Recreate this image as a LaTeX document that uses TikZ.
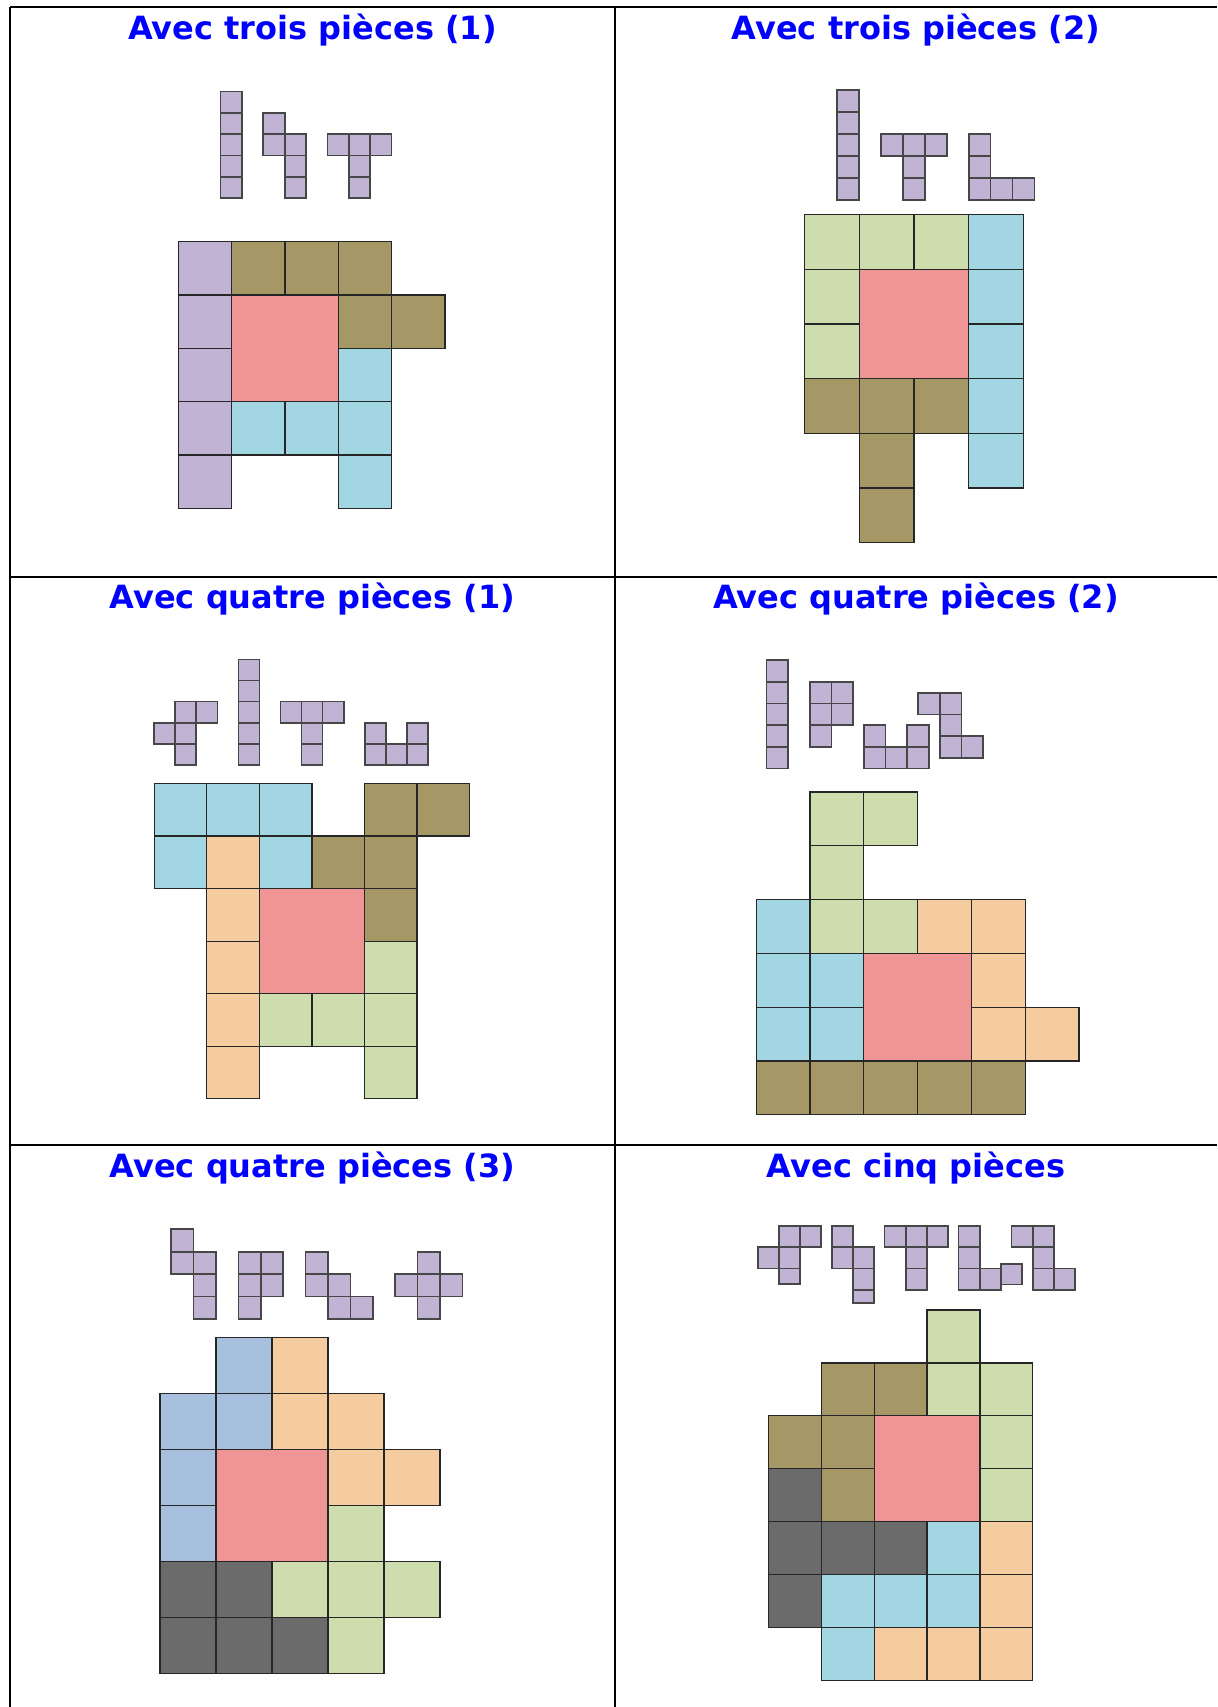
\documentclass[tikz,border=0pt]{standalone}
\usepackage{fontspec}
\setmainfont{DejaVu Sans}
\definecolor{pur}{HTML}{C1B3D3}
\definecolor{oli}{HTML}{A59766}
\definecolor{cya}{HTML}{A3D6E3}
\definecolor{grn}{HTML}{CDDDAD}
\definecolor{ora}{HTML}{F5CBA0}
\definecolor{stl}{HTML}{A6C0DE}
\definecolor{gry}{HTML}{6B6B6B}
\definecolor{rsq}{HTML}{F09595}
\definecolor{ttl}{HTML}{0000FF}
\newcommand{\cells}[2]{\foreach \a/\b in {#2} {\filldraw[#1] (\a,\b) rectangle ++(1,1);}}
\newcommand{\cellh}[4]{\filldraw[#1] (#2,#3) rectangle ++(1,#4);}
\tikzset{
  frame/.style={draw=black, line width=1pt},
  main/.style={draw=black!85, line width=0.65pt},
  piece/.style={fill=pur, draw=black!72, line width=0.85pt},
  redblock/.style={main, fill=rsq},
  ttlstyle/.style={font=\bfseries\fontsize{16pt}{19pt}\selectfont, text=ttl, inner sep=0pt, anchor=base}
}
\begin{document}
\begin{tikzpicture}[x=0.5pt, y=-0.5pt]
\useasboundingbox (0,0) rectangle (1217,1707);
% table frame
\draw[frame] (10,7.5) -- (1217,7.5);
\draw[frame] (10,577) -- (1217,577);
\draw[frame] (10,1145) -- (1217,1145);
\draw[frame] (10,7.5) -- (10,1707);
\draw[frame] (615,7.5) -- (615,1707);
% titles
\node[ttlstyle] (t1) at (312.5,39.3) {Avec trois pièces (1)};
\node[ttlstyle] (t2) at (916,39.3) {Avec trois pièces (2)};
\node[ttlstyle] (t3) at (312.5,608) {Avec quatre pièces (1)};
\node[ttlstyle] (t4) at (916,608) {Avec quatre pièces (2)};
\node[ttlstyle] (t5) at (312.5,1177.3) {Avec quatre pièces (3)};
\node[ttlstyle] (t6) at (916,1177.3) {Avec cinq pièces};

% ===== Panel 1 =====
\begin{scope}[shift={(220.6,91.4)}, x=10.675pt, y=-10.675pt]
  \cells{piece}{0/0,0/1,0/2,0/3,0/4}
  \cells{piece}{2/1,2/2,3/2,3/3,3/4}
  \cells{piece}{5/2,6/2,7/2,6/3,6/4}
\end{scope}
\begin{scope}[shift={(178.3,241.6)}, x=26.675pt, y=-26.675pt]
  \cells{main,fill=pur}{0/0,0/1,0/2,0/3,0/4}
  \cells{main,fill=oli}{1/0,2/0,3/0,3/1,4/1}
  \cells{main,fill=cya}{3/2,1/3,2/3,3/3,3/4}
  \filldraw[redblock] (1,1) rectangle ++(2,2);
\end{scope}

% ===== Panel 2 =====
\begin{scope}[shift={(837.3,90.3)}, x=10.95pt, y=-10.95pt]
  \cells{piece}{0/0,0/1,0/2,0/3,0/4}
  \cells{piece}{2/2,3/2,4/2,3/3,3/4}
  \cells{piece}{6/2,6/3,6/4,7/4,8/4}
\end{scope}
\begin{scope}[shift={(804.6,214.6)}, x=27.35pt, y=-27.35pt]
  \cells{main,fill=grn}{0/0,1/0,2/0,0/1,0/2}
  \cells{main,fill=cya}{3/0,3/1,3/2,3/3,3/4}
  \cells{main,fill=oli}{0/3,1/3,2/3,1/4,1/5}
  \filldraw[redblock] (1,1) rectangle ++(2,2);
\end{scope}

% ===== Panel 3 =====
\begin{scope}[shift={(154.2,659.5)}, x=10.525pt, y=-10.525pt]
  \cells{piece}{1/2,2/2,0/3,1/3,1/4}
  \cells{piece}{4/0,4/1,4/2,4/3,4/4}
  \cells{piece}{6/2,7/2,8/2,7/3,7/4}
  \cells{piece}{10/3,12/3,10/4,11/4,12/4}
\end{scope}
\begin{scope}[shift={(154.2,783.5)}, x=26.275pt, y=-26.275pt]
  \cells{main,fill=cya}{0/0,1/0,2/0,0/1,2/1}
  \cells{main,fill=oli}{4/0,5/0,3/1,4/1,4/2}
  \cells{main,fill=ora}{1/1,1/2,1/3,1/4,1/5}
  \cells{main,fill=grn}{4/3,2/4,3/4,4/4,4/5}
  \filldraw[redblock] (2,2) rectangle ++(2,2);
\end{scope}

% ===== Panel 4 =====
\begin{scope}[shift={(766.5,660.3)}, x=10.825pt, y=-10.825pt]
  \cells{piece}{0/0,0/1,0/2,0/3,0/4}
  \cells{piece}{2/1,3/1,2/2,3/2,2/3}
  \cells{piece}{4.5/3,6.5/3,4.5/4,5.5/4,6.5/4}
  \cells{piece}{7/1.5,8/1.5,8/2.5,8/3.5,9/3.5}
\end{scope}
\begin{scope}[shift={(756.2,792.0)}, x=26.9pt, y=-26.9pt]
  \cells{main,fill=grn}{1/0,2/0,1/1,1/2,2/2}
  \cells{main,fill=ora}{3/2,4/2,4/3,4/4,5/4}
  \cells{main,fill=cya}{0/2,0/3,1/3,0/4,1/4}
  \cells{main,fill=oli}{0/5,1/5,2/5,3/5,4/5}
  \filldraw[redblock] (2,3) rectangle ++(2,2);
\end{scope}

% ===== Panel 5 =====
\begin{scope}[shift={(171.2,1229.3)}, x=11.2pt, y=-11.2pt]
  \cells{piece}{0/0,0/1,1/1,1/2,1/3}
  \cells{piece}{3/1,4/1,3/2,4/2,3/3}
  \cells{piece}{6/1,6/2,7/2,7/3,8/3}
  \cells{piece}{11/1,10/2,11/2,12/2,11/3}
\end{scope}
\begin{scope}[shift={(160.1,1337.8)}, x=27.985pt, y=-27.985pt]
  \cells{main,fill=stl}{1/0,0/1,1/1,0/2,0/3}
  \cells{main,fill=ora}{2/0,2/1,3/1,3/2,4/2}
  \cells{main,fill=grn}{3/3,2/4,3/4,4/4,3/5}
  \cells{main,fill=gry}{0/4,1/4,0/5,1/5,2/5}
  \filldraw[redblock] (1,2) rectangle ++(2,2);
\end{scope}

% ===== Panel 6 =====
\begin{scope}[shift={(757.7,1226)}, x=10.575pt, y=-10.65pt]
  \cells{piece}{1/0,2/0,0/1,1/1}
  \cellh{piece}{1}{2}{0.72}
  \cells{piece}{3.5/0,3.5/1,4.5/1,4.5/2}
  \cellh{piece}{4.5}{3}{0.62}
  \cells{piece}{6/0,7/0,8/0,7/1,7/2}
  \cells{piece}{9.5/0,9.5/1,9.5/2,10.5/2}
  \cellh{piece}{11.5}{1.78}{0.97}
  \cells{piece}{12/0,13/0,13/1,13/2,14/2}
\end{scope}
\begin{scope}[shift={(768.4,1310.0)}, x=26.44pt, y=-26.44pt]
  \cells{main,fill=grn}{3/0,3/1,4/1,4/2,4/3}
  \cells{main,fill=oli}{1/1,2/1,0/2,1/2,1/3}
  \cells{main,fill=gry}{0/3,0/4,1/4,2/4,0/5}
  \cells{main,fill=cya}{3/4,1/5,2/5,3/5,1/6}
  \cells{main,fill=ora}{4/4,4/5,2/6,3/6,4/6}
  \filldraw[redblock] (2,2) rectangle ++(2,2);
\end{scope}
\end{tikzpicture}
\end{document}
